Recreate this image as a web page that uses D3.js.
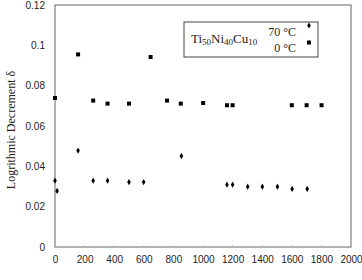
<!DOCTYPE html>
<html>
<head>
<meta charset="utf-8">
<script src="https://cdn.jsdelivr.net/npm/d3@7"></script>
<style>
  body { margin: 0; background: #fff; }
  svg text { fill: #222; }
</style>
</head>
<body>
<div id="chart"></div>
<script>
// Data
var temp0_x = [0, 156, 258, 355, 500, 646, 757, 850, 1001, 1162, 1200, 1600, 1700, 1801];
var temp0_y = [0.0739, 0.0955, 0.0726, 0.0711, 0.0711, 0.0942, 0.0726, 0.0711, 0.0714, 0.0703, 0.0703, 0.0703, 0.0703, 0.0703];
var temp70_x = [0, 14, 156, 258, 355, 500, 599, 854, 1162, 1200, 1302, 1401, 1503, 1602, 1704];
var temp70_y = [0.0329, 0.0278, 0.0478, 0.0329, 0.0329, 0.0322, 0.0322, 0.0451, 0.0309, 0.0309, 0.0299, 0.0299, 0.0299, 0.0288, 0.0288];
var xTicks = [0, 200, 400, 600, 800, 1000, 1200, 1400, 1600, 1800, 2000];
var yTicks = [0, 0.02, 0.04, 0.06, 0.08, 0.1, 0.12];
var yTickLabels = ["0", "0.02", "0.04", "0.06", "0.08", "0.1", "0.12"];

function create_chart(width, height) {
    var margin = { top: 5, right: 11, bottom: 33, left: 55 };
    var innerWidth = width - margin.left - margin.right;
    var innerHeight = height - margin.top - margin.bottom;

    var svg = d3.select("#chart").append("svg")
        .attr("width", width)
        .attr("height", height)
        .append("g")
        .attr("transform", "translate(" + margin.left + "," + margin.top + ")");

    var x = d3.scaleLinear().domain([0, 2000]).range([0, innerWidth]);
    var y = d3.scaleLinear().domain([0, 0.12]).range([innerHeight, 0]);

    // Frame around plot
    svg.append("rect")
        .attr("x", 0).attr("y", 0)
        .attr("width", innerWidth).attr("height", innerHeight)
        .attr("fill", "none")
        .attr("stroke", "#666")
        .attr("stroke-width", 1);

    // x axis: labels only, small faint inward ticks
    var xAxis = d3.axisBottom(x).tickValues(xTicks).tickSize(0).tickPadding(9).tickFormat(d3.format("d"));
    var gx = svg.append("g")
        .attr("transform", "translate(0," + innerHeight + ")")
        .call(xAxis);
    gx.select(".domain").remove();
    gx.selectAll("text")
        .style("font-family", "Arial, 'Liberation Sans', sans-serif")
        .style("font-size", "10px");
    svg.append("g").selectAll("line")
        .data(xTicks.slice(1, -1))
        .enter().append("line")
        .attr("x1", d => x(d)).attr("x2", d => x(d))
        .attr("y1", innerHeight).attr("y2", innerHeight - 2)
        .attr("stroke", "#bbb");

    // y axis
    var yAxis = d3.axisLeft(y).tickValues(yTicks).tickSize(0).tickPadding(10)
        .tickFormat((d, i) => yTickLabels[i]);
    var gy = svg.append("g").call(yAxis);
    gy.select(".domain").remove();
    gy.selectAll("text")
        .style("font-family", "Arial, 'Liberation Sans', sans-serif")
        .style("font-size", "10px");

    // y axis label
    svg.append("text")
        .attr("text-anchor", "middle")
        .attr("transform", "rotate(-90)")
        .attr("x", -125)
        .attr("y", -margin.left + 15)
        .style("font-family", "'Liberation Serif', 'Times New Roman', serif")
        .style("font-size", "12px")
        .text("Logrithmic Decrement δ");

    // 0 °C squares
    var d0 = temp0_x.map((v, i) => ({ x: v, y: temp0_y[i] }));
    svg.selectAll(".sq")
        .data(d0)
        .enter().append("rect")
        .attr("class", "sq")
        .attr("x", d => x(d.x) - 2)
        .attr("y", d => y(d.y) - 2)
        .attr("width", 4).attr("height", 4)
        .attr("fill", "#000");

    // 70 °C diamonds
    var d70 = temp70_x.map((v, i) => ({ x: v, y: temp70_y[i] }));
    var diamond = d3.symbol().type(d3.symbolDiamond).size(11);
    svg.selectAll(".dm")
        .data(d70)
        .enter().append("path")
        .attr("class", "dm")
        .attr("d", diamond)
        .attr("transform", d => "translate(" + x(d.x) + "," + y(d.y) + ")")
        .attr("fill", "#000");

    // Legend
    var lg = svg.append("g").attr("transform", "translate(" + (184 - margin.left) + "," + (22 - margin.top) + ")");
    lg.append("rect")
        .attr("x", 0).attr("y", 0)
        .attr("width", 134).attr("height", 35)
        .attr("fill", "#fff")
        .attr("stroke", "#444");
    var serif = "'Liberation Serif', 'Times New Roman', serif";
    var title = lg.append("text")
        .attr("x", 7).attr("y", 21)
        .style("font-family", serif)
        .style("font-size", "13px");
    [["Ti", false], ["50", true], ["Ni", false], ["40", true], ["Cu", false], ["10", true]].forEach(function (p) {
        var t = title.append("tspan").text(p[0]);
        if (p[1]) t.style("font-size", "9px").attr("dy", 2);
        else t.attr("dy", title.selectAll("tspan").size() > 1 ? -2 : 0);
    });
    lg.append("text")
        .attr("x", 112).attr("y", 13.5)
        .attr("text-anchor", "end")
        .style("font-family", serif)
        .style("font-size", "12px")
        .text("70 °C");
    lg.append("text")
        .attr("x", 112).attr("y", 29.5)
        .attr("text-anchor", "end")
        .style("font-family", serif)
        .style("font-size", "12px")
        .text("0 °C");
    lg.append("path")
        .attr("d", diamond)
        .attr("transform", "translate(125,3.5)")
        .attr("fill", "#000");
    lg.append("rect")
        .attr("x", 123).attr("y", 18.5)
        .attr("width", 4).attr("height", 4)
        .attr("fill", "#000");
}

create_chart(362, 280);
</script>
</body>
</html>
